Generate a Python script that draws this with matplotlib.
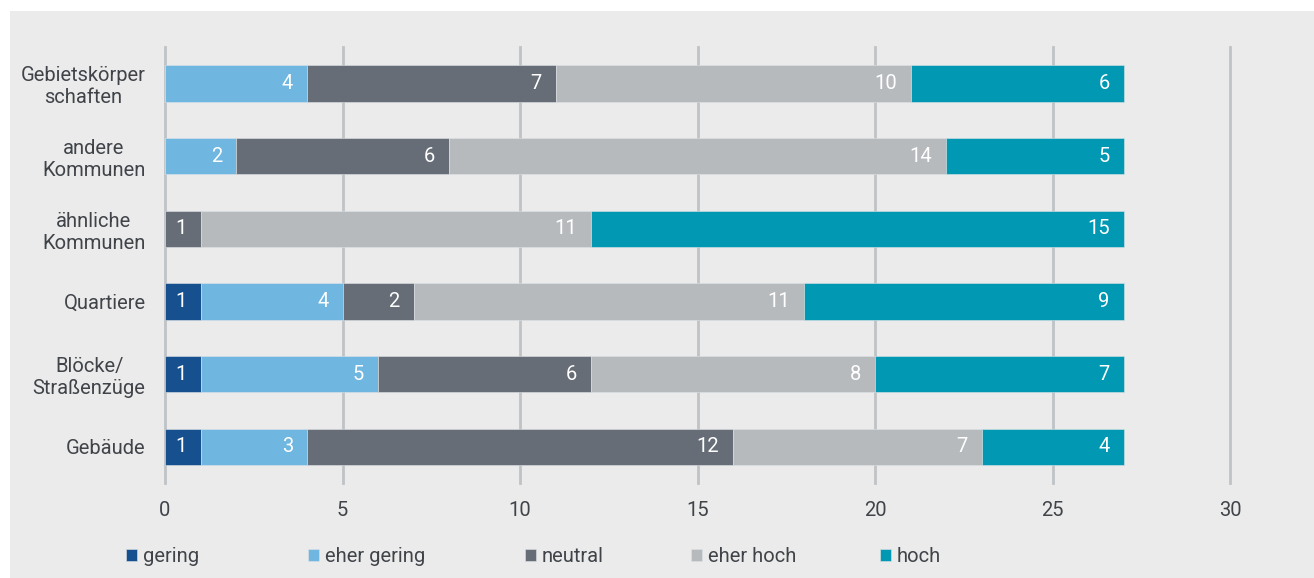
import matplotlib.pyplot as plt
import numpy as np

plt.rcParams['font.family'] = ['Roboto', 'DejaVu Sans']

categories = ["Gebietskörper\nschaften", "andere\nKommunen", "ähnliche\nKommunen",
              "Quartiere", "Blöcke/\nStraßenzüge", "Gebäude"]
series = ["gering", "eher gering", "neutral", "eher hoch", "hoch"]
gering = [0, 0, 0, 1, 1, 1]
eher_gering = [4, 2, 0, 4, 5, 3]
neutral = [7, 6, 1, 2, 6, 12]
eher_hoch = [10, 14, 11, 11, 8, 7]
hoch = [6, 5, 15, 9, 7, 4]
x_ticks = [0, 5, 10, 15, 20, 25, 30]

colors = ["#16508f", "#6fb6e0", "#666d77", "#b7babd", "#0098b3"]
text_col = "#404449"
bg = "#ebebeb"
fs = 14.5

fig = plt.figure(figsize=(13.14, 5.78), dpi=100)
fig.patch.set_facecolor("white")
# gray panel (white margin on top/left like the source)
fig.patches.append(plt.Rectangle((10 / 1314, 0), 1, 1 - 11 / 578, transform=fig.transFigure,
                                 facecolor=bg, edgecolor="none", zorder=-10))

ax = fig.add_axes([165 / 1314, 1 - 483 / 578, (1230 - 165) / 1314, (483 - 47) / 578])
ax.set_facecolor(bg)

y = np.arange(len(categories))
left = np.zeros(len(categories))
handles = []
for name, vals, col in zip(series, [gering, eher_gering, neutral, eher_hoch, hoch], colors):
    vals = np.array(vals, dtype=float)
    bars = ax.barh(y, vals, left=left, height=0.5, color=col, edgecolor="#dfe3e6",
                   linewidth=0.4, label=name, zorder=3)
    handles.append(bars)
    for yi, l, v in zip(y, left, vals):
        if v > 0:
            ax.annotate(f"{int(v)}", xy=(l + v, yi), xytext=(-10, 0), textcoords="offset points",
                        ha="right", va="center", color="white", fontsize=fs, zorder=4)
    left += vals

ax.set_xlim(0, 30)
ax.set_ylim(len(categories) - 0.5, -0.5)
ax.set_xticks(x_ticks)
ax.set_yticks(y)
ax.set_yticklabels(categories, multialignment="center")
ax.tick_params(axis="both", length=0, colors=text_col, labelsize=fs)
ax.tick_params(axis="x", pad=13)
ax.tick_params(axis="y", pad=14)
ax.xaxis.grid(True, color="#bfc3c6", linewidth=2, zorder=0)
for gl in ax.get_xgridlines():
    gl.set_clip_on(False)
for s in ax.spines.values():
    s.set_visible(False)

# legend entries spaced as in the source
legend_x = [126, 308, 525, 691, 880]
for h, name, lx in zip(handles, series, legend_x):
    fig.legend([h], [name], loc="center left", bbox_to_anchor=(lx / 1314, 1 - 557 / 578),
               frameon=False, handlelength=0.55, handleheight=0.55, handletextpad=0.3,
               borderpad=0, borderaxespad=0, fontsize=fs, labelcolor=text_col)

fig.savefig("out.png", dpi=100, facecolor=fig.get_facecolor())
